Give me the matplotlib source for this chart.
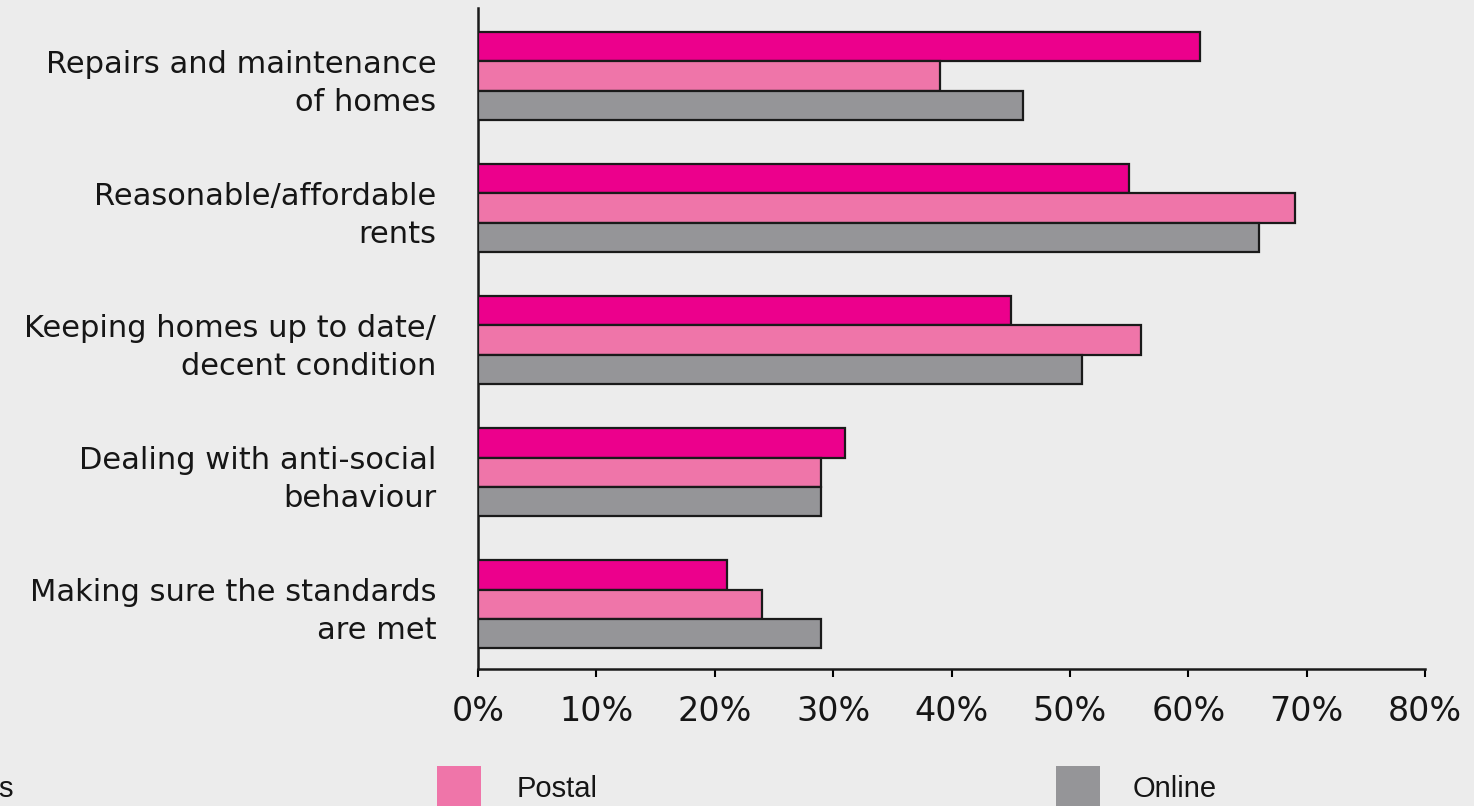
import matplotlib
matplotlib.use("Agg")
import matplotlib.pyplot as plt
from matplotlib.patches import Rectangle
import numpy as np

categories = [
    "Repairs and maintenance\nof homes",
    "Reasonable/affordable\nrents",
    "Keeping homes up to date/\ndecent condition",
    "Dealing with anti-social\nbehaviour",
    "Making sure the standards\nare met",
]
series_names = ["All", "Postal", "Online"]
all_values = [61, 55, 45, 31, 21]
postal_values = [39, 69, 56, 29, 24]
online_values = [46, 66, 51, 29, 29]
x_ticks = [0, 10, 20, 30, 40, 50, 60, 70, 80]
x_tick_labels = [f"{v}%" for v in x_ticks]

colors = ["#EC008C", "#EF75A9", "#959598"]
bg = "#ECECEC"
ink = "#161616"

W, H = 1474, 806
fig = plt.figure(figsize=(W / 100, H / 100), dpi=100, facecolor=bg)
ax = fig.add_axes([478 / W, 1 - 669 / H, (1425 - 478) / W, (669 - 8) / H])
ax.set_facecolor(bg)

bar_h = 0.222
y = np.arange(len(categories))
for i, vals in enumerate([all_values, postal_values, online_values]):
    ax.barh(y + (i - 1) * bar_h, vals, height=bar_h, color=colors[i],
            edgecolor="#1a1a1a", linewidth=1.6, zorder=3)

ax.set_xlim(0, 80)
ax.set_ylim(4.49, -0.515)
ax.set_xticks(x_ticks)
ax.set_xticklabels(x_tick_labels, fontsize=24, color=ink)
ax.set_yticks(y)
ax.set_yticklabels(categories, fontsize=22, color=ink, linespacing=1.38)
ax.tick_params(axis="y", length=0, pad=30)
ax.tick_params(axis="x", direction="out", length=6, width=1.5, pad=13)

for side in ["top", "right"]:
    ax.spines[side].set_visible(False)
for side in ["left", "bottom"]:
    ax.spines[side].set_linewidth(1.8)
    ax.spines[side].set_color("#1a1a1a")

# legend row along the bottom edge
legend_items = [("Postal", colors[1], 437, 517), ("Online", colors[2], 1056, 1133)]
for label, col, sx, tx in legend_items:
    fig.patches.append(Rectangle((sx / W, 0), 44 / W, (806 - 766) / H,
                                 transform=fig.transFigure, facecolor=col,
                                 edgecolor="none"))
    fig.text(tx / W, 1 - 789 / H, label, fontsize=21, family="Liberation Sans",
             color=ink, va="center", ha="left")
fig.text(-2 / W, 1 - 789 / H, "s", fontsize=21, family="Liberation Sans",
         color=ink, va="center", ha="left")

fig.savefig("out.png", dpi=100, facecolor=bg)
